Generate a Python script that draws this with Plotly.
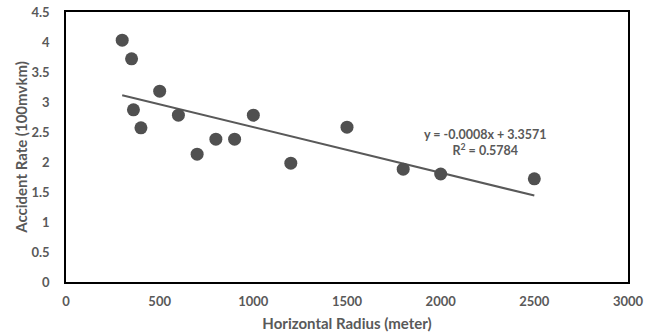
import numpy as np
import plotly.graph_objects as go

radius = [300, 350, 360, 400, 500, 600, 700, 800, 900, 1000, 1200, 1500, 1800, 2000, 2500]
rate = [4.03, 3.72, 2.87, 2.57, 3.18, 2.78, 2.13, 2.38, 2.38, 2.78, 1.98, 2.58, 1.88, 1.80, 1.72]

eq_text = "y = -0.0008x + 3.3571"
r2_text = "R<sup>2</sup> = 0.5784"

slope, intercept = np.polyfit(radius, rate, 1)
trend_x = [min(radius), max(radius)]
trend_y = [slope * v + intercept for v in trend_x]

gray = "#595959"
font_family = "Lato, 'Open Sans', sans-serif"

fig = go.Figure()
fig.add_trace(go.Scatter(x=trend_x, y=trend_y, mode="lines",
                         line=dict(color=gray, width=2), hoverinfo="skip"))
fig.add_trace(go.Scatter(x=radius, y=rate, mode="markers",
                         marker=dict(color="#505050", size=13, line=dict(width=0))))

fig.add_annotation(x=2240, y=2.33, xref="x", yref="y", text=eq_text + "<br>" + r2_text,
                   showarrow=False, align="center",
                   font=dict(family=font_family, size=12.5, color=gray, weight="bold"))

axis_common = dict(showgrid=False, zeroline=False, showline=True, linecolor="black",
                   linewidth=1.5, mirror=True, ticks="", automargin=False,
                   tickfont=dict(family=font_family, size=13, color=gray, weight="bold"))

fig.update_xaxes(range=[0, 3000], tickvals=[0, 500, 1000, 1500, 2000, 2500, 3000],
                 title=dict(text="Horizontal Radius (meter)", standoff=10,
                            font=dict(family=font_family, size=15, color=gray, weight="bold")),
                 ticklabelstandoff=7, **axis_common)
fig.update_yaxes(range=[0, 4.5], tickvals=[0, 0.5, 1, 1.5, 2, 2.5, 3, 3.5, 4, 4.5],
                 ticktext=["0", "0.5", "1", "1.5", "2", "2.5", "3", "3.5", "4", "4.5"],
                 title=dict(text="Accident Rate (100mvkm)", standoff=0,
                            font=dict(family=font_family, size=15, color=gray, weight="bold")),
                 ticklabelstandoff=12, **axis_common)

fig.update_layout(width=657, height=336, showlegend=False,
                  margin=dict(l=66, r=29, t=12, b=54),
                  paper_bgcolor="white", plot_bgcolor="white")

fig.write_html("out.html")
